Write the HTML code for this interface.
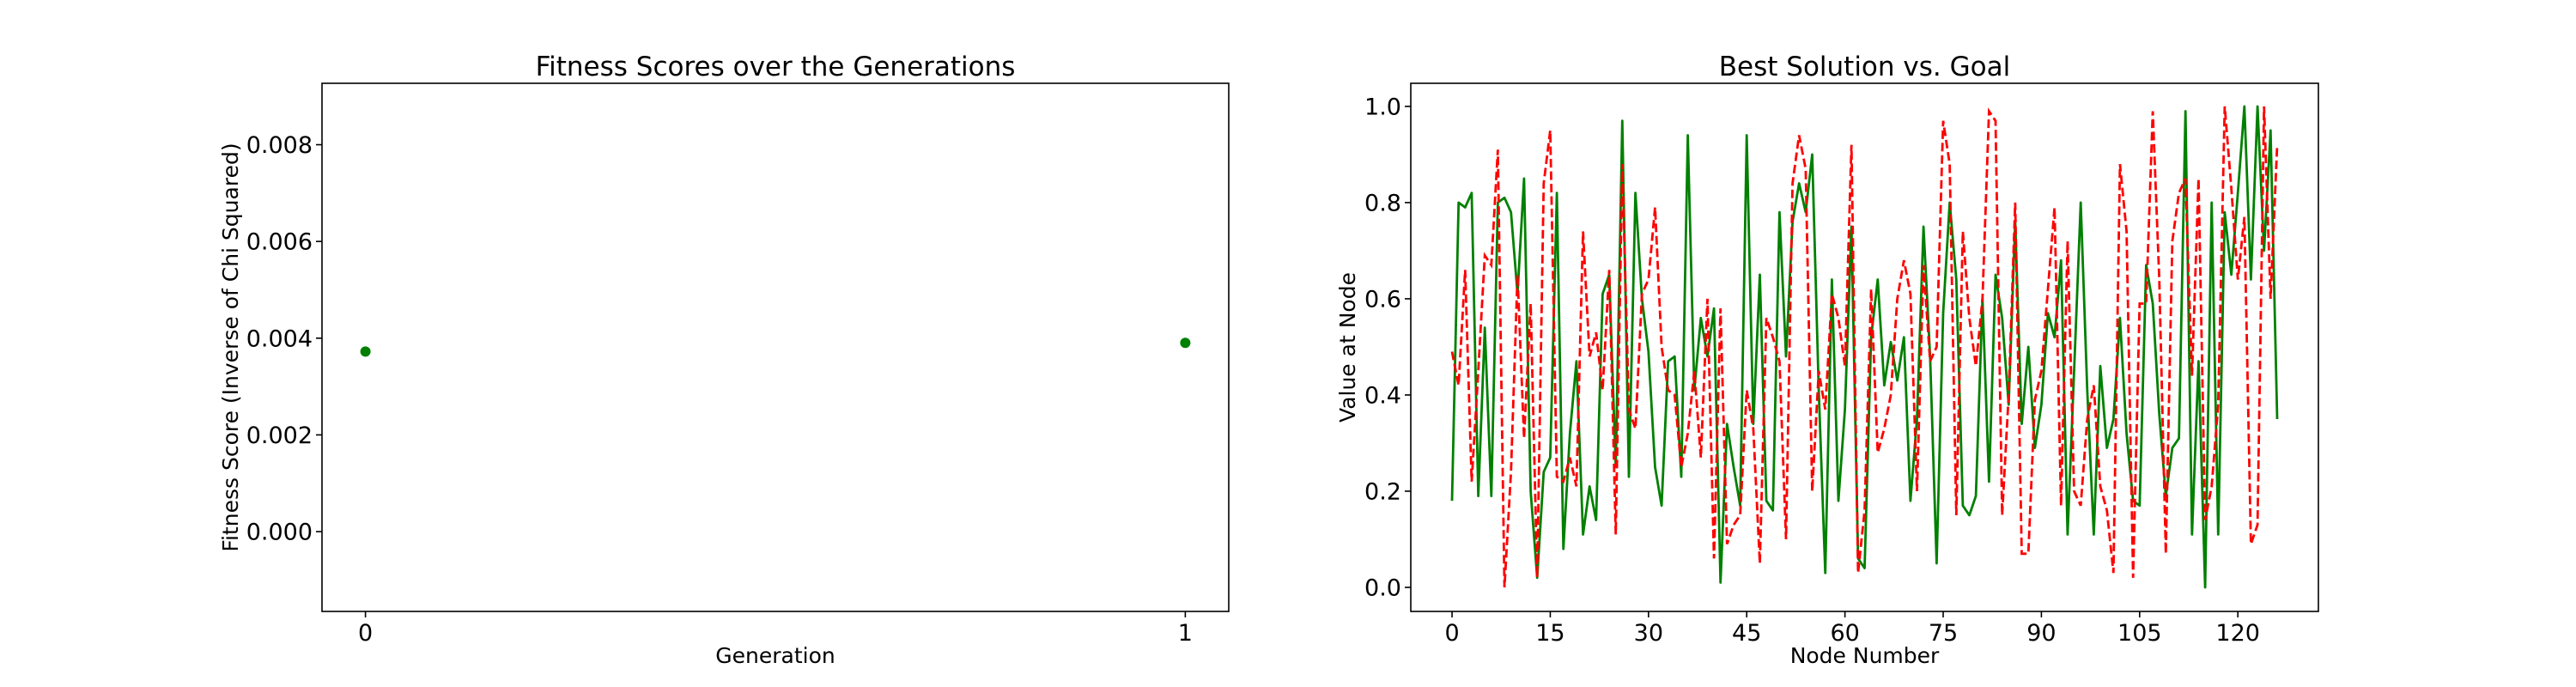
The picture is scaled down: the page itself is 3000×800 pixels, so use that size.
<!DOCTYPE html>
<html><head><meta charset="utf-8"><style>
html,body{margin:0;padding:0;background:#fff;}
svg{display:block;font-family:"DejaVu Sans","Liberation Sans",sans-serif;}
</style></head><body>
<svg id="fig" width="3000" height="800" viewBox="0 0 3000 800">
<rect width="3000" height="800" fill="#fff"/>
<g id="left"></g>
<g id="right"></g>
</svg>
<script>
const genX = [0, 1];
const fitnessY = [0.003723, 0.003904];
const leftYTicks = [0, 0.002, 0.004, 0.006, 0.008];
const leftYTickLabels = ["0.000", "0.002", "0.004", "0.006", "0.008"];
const leftXTicks = [0, 1];
const leftXTickLabels = ["0", "1"];

const bestSolution = [.18,.80,.79,.82,.19,.54,.19,.80,.81,.78,.61,.85,.20,.02,.24,.27,.82,.08,.32,.47,.11,.21,.14,.61,.65,.25,.97,.23,.82,.60,.49,.25,.17,.47,.48,.23,.94,.41,.56,.48,.58,.01,.34,.25,.17,.94,.34,.65,.18,.16,.78,.48,.76,.84,.78,.90,.41,.03,.64,.18,.37,.75,.06,.04,.52,.64,.42,.51,.43,.52,.18,.35,.75,.48,.05,.57,.80,.64,.17,.15,.19,.60,.22,.65,.56,.38,.76,.34,.50,.29,.38,.57,.52,.68,.11,.45,.80,.41,.11,.46,.29,.35,.56,.32,.18,.17,.67,.59,.36,.19,.29,.31,.99,.11,.47,.00,.80,.11,.78,.65,.82,1.0,.64,1.0,.70,.95,.35];
const goal = [.49,.42,.66,.22,.45,.69,.67,.91,.00,.24,.65,.31,.59,.02,.84,.95,.23,.22,.27,.21,.74,.48,.53,.41,.66,.11,.88,.37,.33,.61,.64,.79,.50,.41,.40,.25,.32,.45,.27,.60,.06,.58,.09,.13,.15,.41,.33,.05,.56,.52,.47,.10,.84,.94,.87,.20,.45,.37,.61,.56,.46,.92,.03,.16,.62,.28,.33,.40,.60,.68,.61,.20,.67,.47,.50,.97,.88,.15,.74,.56,.46,.60,.99,.97,.15,.40,.80,.07,.07,.39,.45,.62,.79,.17,.72,.20,.17,.35,.42,.21,.16,.03,.88,.74,.02,.59,.59,.99,.64,.07,.72,.82,.85,.44,.85,.14,.21,.38,1.0,.83,.64,.77,.09,.13,1.0,.60,.92];
const rightYTicks = [0, 0.2, 0.4, 0.6, 0.8, 1.0];
const rightYTickLabels = ["0.0", "0.2", "0.4", "0.6", "0.8", "1.0"];
const rightXTicks = [0, 15, 30, 45, 60, 75, 90, 105, 120];
const rightXTickLabels = ["0", "15", "30", "45", "60", "75", "90", "105", "120"];

const NS = "http://www.w3.org/2000/svg";
function mk(parent, tag, attrs, text) {
  const e = document.createElementNS(NS, tag);
  for (const k in attrs) e.setAttribute(k, attrs[k]);
  if (text !== undefined) e.textContent = text;
  parent.appendChild(e);
  return e;
}
function scale(d0, d1, r0, r1) { return v => r0 + (v - d0) / (d1 - d0) * (r1 - r0); }

function axes(g, box, xs, ys, xt, xtl, yt, ytl, title, xlabel, ylabel, prefix) {
  let e;
  yt.forEach((t, i) => {
    const y = ys(t);
    e = mk(g, "line", {x1: box.l - 7, x2: box.l, y1: y, y2: y, stroke: "#000", "stroke-width": 1.6});
    
    
    e = mk(g, "text", {x: box.l - 11, y: y + 9.5, "text-anchor": "end", "font-size": 27}, ytl[i]);
    
    
  });
  xt.forEach((t, i) => {
    const x = xs(t);
    e = mk(g, "line", {x1: x, x2: x, y1: box.b, y2: box.b + 7, stroke: "#000", "stroke-width": 1.6});
    
    
    e = mk(g, "text", {x: x, y: box.b + 34, "text-anchor": "middle", "font-size": 27}, xtl[i]);
    
    
  });
  e = mk(g, "text", {x: (box.l + box.r) / 2, y: 88, "text-anchor": "middle", "font-size": 31}, title);
  
  
  e = mk(g, "text", {x: (box.l + box.r) / 2, y: 772, "text-anchor": "middle", "font-size": 25}, xlabel);
  
  
  const cy = (box.t + box.b) / 2;
  e = mk(g, "text", {x: box.yl, y: cy, "text-anchor": "middle", "font-size": 25, transform: "rotate(-90 " + box.yl + " " + cy + ")"}, ylabel);
  
  
}
function frame(g, box, prefix) {
  const e = mk(g, "rect", {x: box.l, y: box.t, width: box.r - box.l, height: box.b - box.t, fill: "none", stroke: "#000", "stroke-width": 1.6});
  
  
}

// Left chart
const L = document.getElementById("left");
const lb = {l: 375, r: 1431, t: 97, b: 712, yl: 277};
const lxs = scale(-0.053, 1.053, lb.l, lb.r);
const lys = scale(-0.00165, 0.00927, lb.b, lb.t);
axes(L, lb, lxs, lys, leftXTicks, leftXTickLabels, leftYTicks, leftYTickLabels,
  "Fitness Scores over the Generations", "Generation", "Fitness Score (Inverse of Chi Squared)", "left");
genX.forEach((g, i) => {
  const c = mk(L, "circle", {cx: lxs(g), cy: lys(fitnessY[i]), r: 6, fill: "#008000"});
  
  
});
frame(L, lb, "left");

// Right chart
const R = document.getElementById("right");
const rb = {l: 1643, r: 2700, t: 97, b: 712, yl: 1578};
const n = bestSolution.length;
const rxs = scale(-0.05 * (n - 1), 1.05 * (n - 1), rb.l, rb.r);
const rys = scale(-0.05, 1.048, rb.b, rb.t);
axes(R, rb, rxs, rys, rightXTicks, rightXTickLabels, rightYTicks, rightYTickLabels,
  "Best Solution vs. Goal", "Node Number", "Value at Node", "right");
const pBest = bestSolution.map((v, i) => rxs(i).toFixed(1) + "," + rys(v).toFixed(1)).join(" ");
const pGoal = goal.map((v, i) => rxs(i).toFixed(1) + "," + rys(v).toFixed(1)).join(" ");
const l1 = mk(R, "polyline", {points: pBest, fill: "none", stroke: "#008000", "stroke-width": 2.8, "stroke-linejoin": "round"});


const l2 = mk(R, "polyline", {points: pGoal, fill: "none", stroke: "#ff0000", "stroke-width": 2.8, "stroke-dasharray": "10,4.5"});


frame(R, rb, "right");
</script>
</body></html>
